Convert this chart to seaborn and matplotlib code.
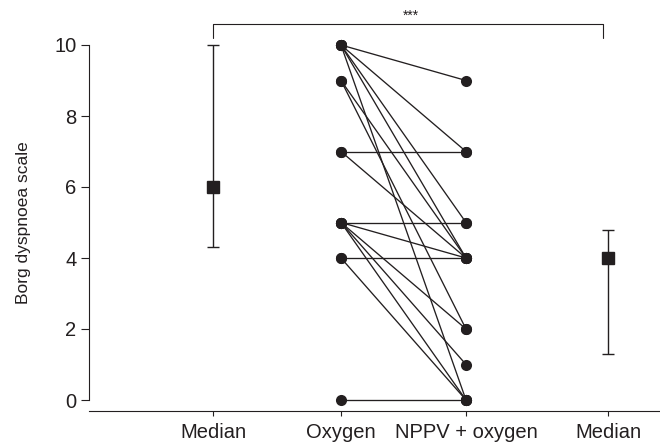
import matplotlib
matplotlib.use("Agg")
import matplotlib.pyplot as plt
import seaborn as sns
import pandas as pd
import numpy as np

# ---- data ----
categories = ["Median", "Oxygen", "NPPV + oxygen", "Median"]
oxygen = [10, 10, 10, 10, 10, 9, 9, 7, 7, 5, 5, 5, 5, 5, 4, 4, 0]
nppv   = [9, 7, 5, 4, 0, 4, 2, 7, 4, 5, 4, 2, 1, 0, 4, 0, 0]
median_oxygen = 6
iqr_oxygen = [4.3, 10]
median_nppv = 4
iqr_nppv = [1.3, 4.8]
sig_label = "***"

# ---- layout constants ----
xpos = [-1.024, 0.0, 1.0, 2.136]
ink = "#231f20"

sns.set_style("ticks")
plt.rcParams["font.family"] = ["Liberation Sans", "DejaVu Sans"]

fig = plt.figure(figsize=(6.6, 4.43), dpi=100)
ax = fig.add_axes([89 / 660, 43 / 443, 571 / 660, 355 / 443])

n = len(oxygen)
df = pd.DataFrame({
    "patient": list(range(n)) * 2,
    "cond": [xpos[1]] * n + [xpos[2]] * n,
    "score": oxygen + nppv,
})
sns.lineplot(data=df, x="cond", y="score", units="patient", estimator=None,
             color=ink, lw=0.95, marker="o", markersize=8, markeredgewidth=0,
             ax=ax, clip_on=False, legend=False)

for xi, med, (lo, hi) in [(xpos[0], median_oxygen, iqr_oxygen),
                          (xpos[3], median_nppv, iqr_nppv)]:
    ax.errorbar([xi], [med], yerr=[[med - lo], [hi - med]], fmt="s",
                color=ink, ms=8, capsize=4.5, elinewidth=1.0, capthick=1.0,
                clip_on=False)

ax.set_xlim(-2.016, 2.552)
ax.set_ylim(0, 10)
ax.set_xticks(xpos)
ax.set_xticklabels(categories)
ax.set_yticks([0, 2, 4, 6, 8, 10])
ax.tick_params(axis="y", labelsize=14.5, length=6, width=0.8, color=ink, labelcolor=ink, pad=3)
ax.tick_params(axis="x", labelsize=14.5, length=3.5, width=0.8, color=ink, labelcolor=ink, pad=5)
ax.set_xlabel("")
ax.set_ylabel("Borg dyspnoea scale", fontsize=12.5, color=ink, labelpad=17)

sns.despine(ax=ax)
ax.spines["bottom"].set_position(("outward", 8))
for s in ["left", "bottom"]:
    ax.spines[s].set_color(ink)
    ax.spines[s].set_linewidth(0.8)

# significance bracket
ytop = 10.59
ax.plot([xpos[0], xpos[0], xpos[3] - 0.04, xpos[3] - 0.04],
        [10.2, ytop, ytop, 10.2], color=ink, lw=0.8, clip_on=False)
ax.text((xpos[0] + xpos[3]) / 2, ytop + 0.04, sig_label, ha="center",
        va="bottom", fontsize=10, color=ink)

fig.savefig("out.png", dpi=100)
